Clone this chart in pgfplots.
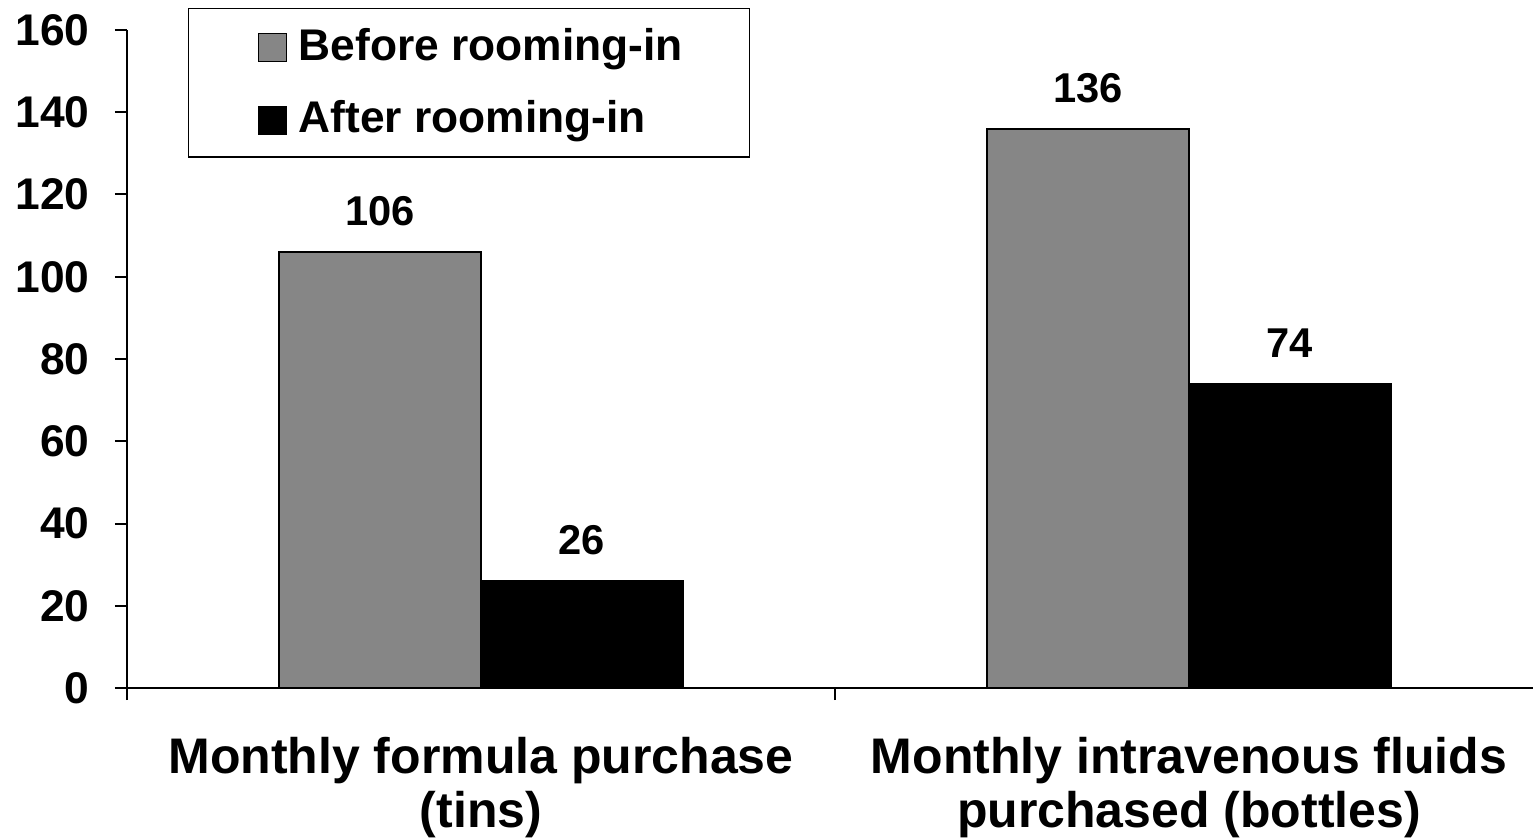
\documentclass[border=0pt]{standalone}
\usepackage{fontspec}
\setmainfont{Liberation Sans}
\usepackage{pgfplots}
\pgfplotsset{compat=1.18}

\definecolor{beforegray}{RGB}{134,134,134}

\begin{document}
\begin{tikzpicture}
\begin{axis}[
    scale only axis,
    width=424.8pt, height=197.4pt,
    xmin=-0.5, xmax=1.5,
    ymin=0, ymax=160,
    ytick={0,20,...,160},
    xtick={-0.5,0.5},
    xticklabels={},
    extra x ticks={0,1},
    extra x tick labels={{Monthly formula purchase\\(tins)},{Monthly intravenous fluids\\purchased (bottles)}},
    extra x tick style={major tick length=0pt,
        tick label style={align=center, inner sep=0pt, yshift=-14.5pt,
            font=\bfseries\fontsize{15}{16.2}\selectfont}},
    axis x line=bottom, axis y line=left,
    axis line style={-, line width=0.6pt, black},
    tick align=outside,
    major tick length=3.6pt,
    tick style={line width=0.6pt, black},
    /pgf/number format/assume math mode=true,
    yticklabel style={font=\bfseries\fontsize{13.3}{15}\selectfont, inner sep=0pt, xshift=-7.5pt},
    ybar,
    bar width=0.285,
    nodes near coords,
    every node near coord/.append style={font=\bfseries\fontsize{12.5}{14}\selectfont, inner sep=0pt, anchor=south, yshift=7.5pt},
    legend style={at={(0.0431,1.0334)}, anchor=north west, draw=black, line width=0.4pt,
        font=\bfseries\fontsize{13.3}{15}\selectfont,
        inner xsep=18pt, inner ysep=3.8pt, row sep=6.6pt, cells={anchor=west}},
    legend image code/.code={
        \path[draw=none,fill=none] (0pt,0pt) -- (13pt,0pt);
        \draw[#1,draw=black,line width=0.3pt] (3pt,-4.6pt) rectangle (11.4pt,3.8pt);},
]
\addplot[bar shift=-0.1425, fill=beforegray, draw=black, line width=0.5pt] coordinates {(0,106) (1,136)};
\addlegendentry{Before rooming-in}
\addplot[bar shift=0.1425, fill=black, draw=black, line width=0.5pt] coordinates {(0,26) (1,74)};
\addlegendentry{After rooming-in}
\coordinate (bl) at (rel axis cs:0,0);
\end{axis}
\pgfresetboundingbox
\path ([shift={(-38.1pt,-45pt)}]bl) rectangle ([shift={(421.8pt,206.4pt)}]bl);
\end{tikzpicture}
\end{document}
